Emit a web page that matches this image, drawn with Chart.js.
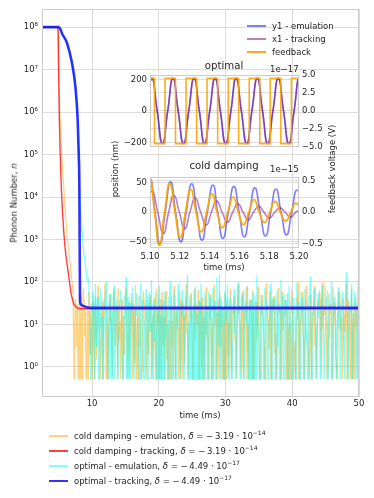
<!DOCTYPE html>
<html><head><meta charset="utf-8">
<script src="https://cdn.jsdelivr.net/npm/chart.js@4.4.1/dist/chart.umd.min.js"></script>
<style>
body{margin:0;background:#fff;}
#wrap{position:relative;width:374px;height:498px;overflow:hidden;font-family:"DejaVu Sans",sans-serif;color:#262626;font-size:8.5px;background:#fff;}
canvas{position:absolute;}
.t{position:absolute;white-space:nowrap;line-height:1;}
.c{transform:translate(-50%,-50%);}
.r{transform:translate(-50%,-50%) rotate(-90deg);}
.m{transform:translateY(-50%);}
.ttl{font-size:10.2px;}
.sw{position:absolute;height:2px;width:19px;}
sup{font-size:6px;vertical-align:4px;line-height:0;}
</style></head><body>
<div id="wrap">
<canvas id="main" width="374" height="498" style="left:0;top:0"></canvas>
<canvas id="opt" width="240" height="95" style="left:100px;top:60px"></canvas>
<canvas id="cold" width="240" height="115" style="left:100px;top:160px"></canvas>

<div class="t r" style="left:14px;top:203px">Phonon Number, <i>n</i></div>
<div class="t c" style="left:200px;top:415px">time (ms)</div>

<div class="sw" style="left:247px;top:25px;background:rgba(0,0,255,0.5)"></div>
<div class="t m" style="left:272px;top:26px">y1 - emulation</div>
<div class="sw" style="left:247px;top:38px;background:rgba(128,0,128,0.5)"></div>
<div class="t m" style="left:272px;top:39px">x1 - tracking</div>
<div class="sw" style="left:247px;top:51px;background:rgb(255,170,20)"></div>
<div class="t m" style="left:272px;top:52px">feedback</div>

<div class="t c ttl" style="left:224px;top:66px">optimal</div>
<div class="t m" style="left:270px;top:69px">1e−17</div>
<div class="t c ttl" style="left:224px;top:166px">cold damping</div>
<div class="t m" style="left:270px;top:169px">1e−15</div>
<div class="t r" style="left:115px;top:169px">position (nm)</div>
<div class="t r" style="left:332px;top:169px">feedback voltage (V)</div>
<div class="t c" style="left:224px;top:267px">time (ms)</div>

<div class="sw" style="left:49px;top:435px;background:rgba(255,165,0,0.5)"></div>
<div class="t m" style="left:74px;top:436px">cold damping - emulation, <i>δ</i> = −&thinsp;3.19 · 10<sup>−14</sup></div>
<div class="sw" style="left:49px;top:450px;background:rgba(255,0,0,0.75)"></div>
<div class="t m" style="left:74px;top:451px">cold damping - tracking, <i>δ</i> = −&thinsp;3.19 · 10<sup>−14</sup></div>
<div class="sw" style="left:49px;top:465px;background:rgba(0,255,255,0.5)"></div>
<div class="t m" style="left:74px;top:466px">optimal - emulation, <i>δ</i> = −&thinsp;4.49 · 10<sup>−17</sup></div>
<div class="sw" style="left:49px;top:480px;background:rgba(0,0,255,0.8)"></div>
<div class="t m" style="left:74px;top:481px">optimal - tracking, <i>δ</i> = −&thinsp;4.49 · 10<sup>−17</sup></div>
</div>
<script>
// ---------------- main chart data ----------------
const xTicks = [10, 20, 30, 40, 50];
const yTickExps = [0, 1, 2, 3, 4, 5, 6, 7, 8];

const coldTrackT = [2.5, 4.9, 4.95, 5.1, 5.4, 5.8, 6.1, 6.45, 6.9, 7.3, 7.8, 8.5, 50];
const coldTrackN = [1e8, 1e8, 2.5e7, 6.3e5, 1.6e4, 1260, 400, 160, 50, 30, 24.5, 23.4, 23.4];

const optTrackT = [2.5, 5.0, 5.25, 5.5, 6.25, 7.0, 7.5, 7.85, 8.0, 8.1, 8.15, 8.2, 8.3, 8.5, 8.8, 9.2, 10, 50];
const optTrackN = [1e8, 1e8, 9.0e7, 7.1e7, 4.2e7, 1.4e7, 4.0e6, 6.5e5, 1.07e5, 1.7e4, 480, 35, 30, 28, 27, 25.5, 24.5, 24.5];

const coldEmuT = [2.5, 4.9, 5.0, 5.15, 5.45, 5.85, 6.25, 6.7, 7.0, 7.15];
const coldEmuN = [1e8, 1e8, 1.6e7, 1.26e6, 1e5, 1e4, 1260, 300, 100, 70];

const optEmuT = [2.5, 5.0, 5.25, 5.5, 6.25, 7.0, 7.5, 7.85, 8.0, 8.1, 8.3, 8.5, 8.75, 9.0, 9.3];
const optEmuN = [1e8, 1e8, 9.0e7, 7.1e7, 4.2e7, 1.4e7, 4.0e6, 6.5e5, 1.07e5, 1.7e4, 4000, 1600, 500, 250, 110];

// noise samples: series A at start + 0.2*i, series B at start + 0.1 + 0.2*i
const noiseStep = 0.2;
const coldNoiseStart = 7.3;
const coldEmuNoiseA = [
0.52,40,3,0.52,55,12,0.52,70,5,0.52,
25,60,2,30,0.52,18,45,1.5,80,9,
0.52,35,6,90,0.52,22,4,50,14,0.52,
65,3,28,70,7,0.52,40,16,2.5,75,
0.52,33,11,55,0.52,20,85,4,0.52,48,
13,0.8,60,25,0.52,38,6,50,0.52,17,
42,2,70,10,0.52,30,58,3,0.52,60,
21,5,0.52,45,12,80,0.52,26,7,62,
0.52,35,15,1.2,90,8,0.52,50,23,0.52,
68,4,30,65,0.52,19,44,6,0.52,75,
27,2,52,0.52,14,85,9,0.52,36,60,
3,0.52,24,55,0.52,40,11,70,0.52,18,
46,5,0.52,88,29,1,57,0.52,21,75,
7,0.52,39,15,65,0.52,32,4,78,0.52,
25,50,10,0.52,93,17,2.5,61,0.52,28,
47,6,0.52,72,20,0.52,60,13,38,0.52,
55,8,0.52,66,24,3,0.52,43,98,0.52,
16,59,5,0.52,81,31,0.7,49,0.52,22,
80,9,0.52,37,64,4,100,27,86,12,
0.52,53,19,0.52,76,34,2,0.52,58,60,
7,0.52,41,15,92,0.52,30,0.52,67,11,
0.52,44,26,3];
const coldEmuNoiseB = [
8,22,30,2,0.52,45,16,28,20,1.5,
0.52,12,18,25,35,0.52,9,14,28,3,
15,0.52,40,20,7,0.52,25,11,0.52,33,
19,10,0.52,4,12,22,0.52,2,38,26,
6,0.52,18,24,30,1.2,0.52,14,20,3,
0.52,26,31,8,0.52,2,32,17,11,0.52,
5,0.52,19,27,40,0.52,7,15,24,1.5,
0.52,13,21,3,0.52,29,18,9,0.52,36,
2,0.52,16,25,6,0.52,27,12,4,0.52,
21,30,10,0.52,34,1,0.52,15,22,5,
0.52,25,14,8,0.52,42,19,3,0.52,18,
26,7,0.52,30,16,2,0.52,12,24,23,
4,0.52,37,18,9,0.52,1.5,20,20,0.52,
11,24,28,0.52,5,0.52,33,14,6,0.52,
17,22,3,0.52,26,13,10,0.52,39,21,
2,0.52,14,27,22,0.52,7,18,31,1,
0.52,9,23,19,0.52,4,16,35,0.52,12,
20,6,0.52,24,29,2.5,0.52,16,11,28,
3,0.52,13,25,41,0.52,8,17,21,0.52,
5,19,30,0.52,11,24,1.2,0.52,26,15,
15,0.52,7,20,0.52,34,22,4,0.52,18,
27,9,0.52];

const optNoiseStart = 9.5;
const optEmuNoiseA = [
120,8,0.52,60,25,90,3,45,0.52,70,
15,0.52,38,100,6,0.52,52,20,0.52,85,
11,40,0.52,28,65,2,0.52,48,130,9,
0.52,33,18,75,0.52,22,55,4,0.52,95,
30,0.52,12,68,0.52,42,7,110,0.52,26,
58,3,0.52,80,17,0.52,36,62,5,0.52,
45,105,0.52,14,50,0.52,24,88,8,0.52,
66,29,0.52,40,150,10,0.52,56,19,0.52,
78,4,0.52,35,92,0.52,21,47,6,0.52,
60,13,0.52,72,31,0.52,125,16,150,43,
9,0.52,54,23,86,0.52,37,2,0.52,69,
27,0.52,98,12,0.52,46,64,0.52,18,82,
5,0.52,39,57,0.52,25,140,7,0.52,50,
20,0.52,74,33,0.52,11,90,0.52,44,28,
0.52,61,3,0.52,112,15,0.52,52,35,0.52,
79,8,0.52,41,24,0.52,96,13,0.52,58,
30,0.52,67,4,0.52,48,135,0.52,19,71,
10,0.52,55,26,0.52,84,6,0.52,38,63,
0.52,22,102,0.52,45,14,0.52,76,32,0.52,
57,9,0.52,170,40,0.52,21,88,0.52,60,
34,0.52,118];
const optEmuNoiseB = [
30,0.52,15,42,0.52,22,35,0.52,18,8,
0.52,26,40,11,0.52,33,0.52,19,48,0.52,
24,6,0.52,37,20,0.52,14,29,0.52,45,
9,0.52,31,23,0.52,16,44,2,0.52,27,
38,0.52,12,25,0.52,50,17,0.52,34,4,
0.52,21,39,0.52,13,28,0.52,46,10,0.52,
32,18,0.52,24,41,0.52,7,36,0.52,20,
15,0.52,43,27,0.52,11,30,0.52,22,52,
0.52,17,33,0.52,25,8,0.52,40,19,0.52,
29,45,0.52,14,36,0.52,21,3,0.52,34,
23,0.52,47,12,0.52,30,18,0.52,39,6,
0.52,26,15,0.52,42,20,0.52,33,10,0.52,
37,24,0.52,16,49,0.52,28,5,0.52,31,
19,0.52,44,22,0.52,13,35,0.52,26,41,
0.52,9,32,0.52,21,46,0.52,17,38,0.52,
25,12,0.52,40,28,0.52,15,34,0.52,20,
43,0.52,23,7,0.52,36,27,0.52,18,48,
0.52,30,14,0.52,39,22,0.52,11,33,0.52,
26,45,0.52,19,31,0.52,24,8,0.52,37,
16,0.52,29,42,0.52,21,35,0.52,13,27,
0.52,40];

// ---------------- inset data ----------------
const insetXTicks = [5.10, 5.12, 5.14, 5.16, 5.18, 5.20];
const optLeftTicks = [-200, 0, 200];
const optRightTicks = [-5, -2.5, 0, 2.5, 5];
const coldLeftTicks = [-50, 0, 50];
const coldRightTicks = [-0.5, 0, 0.5];

const optPosT = [5.0978,5.1013,5.1048,5.1084,5.1119,5.1154,5.1189,5.1225,5.1260,5.1296,5.1331,5.1366,5.1401,5.1437,5.1472,5.1508,5.1543,5.1578,5.1613,5.1649,5.1684,5.1720,5.1755,5.1790,5.1825,5.1861,5.1896,5.1932,5.1967,5.2002,5.2037];
const optY1 = [0,208,0,-208,0,208,0,-208,0,208,0,-208,0,208,0,-208,0,208,0,-208,0,208,0,-208,0,208,0,-208,0,208,0];
const optX1 = [0,205,0,-205,0,205,0,-205,0,205,0,-205,0,205,0,-205,0,205,0,-205,0,205,0,-205,0,205,0,-205,0,205,0];
const optFbT = [5.0960,5.1030,5.1101,5.1171,5.1242,5.1313,5.1383,5.1454,5.1525,5.1595,5.1666,5.1737,5.1807,5.1878,5.1949,5.2019];
const optFb = [4.55,-4.55,4.55,-4.55,4.55,-4.55,4.55,-4.55,4.55,-4.55,4.55,-4.55,4.55,-4.55,4.55,-4.55];

const coldY1T = [5.0965,5.1000,5.1034,5.1067,5.1102,5.1138,5.1172,5.1207,5.1243,5.1280,5.1314,5.1349,5.1385,5.1422,5.1455,5.1489,5.1526,5.1563,5.1598,5.1633,5.1668,5.1703,5.1739,5.1775,5.1810,5.1845,5.1880,5.1916,5.1951,5.1986,5.2021];
const coldY1 = [0,57,0,-54,0,52,0,-50.5,0,48.5,0,-47.5,0,46.5,0,-44.5,0,44,0,-42,0,41.5,0,-40.5,0,39.5,0,-39,0,38,0];
const coldX1T = [5.0978,5.1013,5.1052,5.1090,5.1125,5.1160,5.1197,5.1233,5.1268,5.1303,5.1340,5.1377,5.1412,5.1447,5.1484,5.1520,5.1555,5.1590,5.1625,5.1660,5.1695,5.1730,5.1765,5.1800,5.1837,5.1873,5.1908,5.1943,5.1978,5.2013];
const coldX1 = [0,36,0,-36,0,29,0,-28,0,24,0,-22,0,19,0,-17,0,14,0,-13,0,10,0,-10,0,7,0,-8.5,0,5];
const coldFbT = [5.0965,5.0999,5.1031,5.1063,5.1098,5.1133,5.1168,5.1203,5.1238,5.1273,5.1309,5.1344,5.1380,5.1415,5.1450,5.1485,5.1522,5.1558,5.1593,5.1627,5.1663,5.1698,5.1733,5.1768,5.1804,5.1840,5.1875,5.1910,5.1945,5.1980,5.2015];
const coldFb = [0,0.53,0,-0.52,0,0.45,0,-0.40,0,0.36,0,-0.31,0,0.29,0,-0.245,0,0.24,0,-0.195,0,0.20,0,-0.16,0,0.17,0,-0.14,0,0.145,0];

// ---------------- helpers ----------------
const FONT = {family: '"DejaVu Sans", sans-serif', size: 8.5};
const TXT = '#262626';
const GRID = '#dcdcdc';
const SUP = {'0':'⁰','1':'¹','2':'²','3':'³','4':'⁴','5':'⁵','6':'⁶','7':'⁷','8':'⁸','9':'⁹','-':'⁻'};
const supStr = n => String(n).split('').map(c => SUP[c]).join('');
const minus = s => String(s).replace('-', '−');
const toPts = (ts, vs) => ts.map((t, i) => ({x: t, y: vs[i]}));
const noisePts = (t0, vs) => vs.map((v, i) => ({x: +(t0 + i * noiseStep).toFixed(2), y: v}));
const mergeNoise = (t0, a, b) => noisePts(t0, a).concat(noisePts(t0 + noiseStep / 2, b)).sort((p, q) => p.x - q.x);
const fixTicks = arr => s => { s.ticks = arr.map(v => ({value: v})); };

const framePlugin = {
  id: 'frame',
  afterDraw(chart) {
    const {ctx, chartArea: a} = chart;
    ctx.save();
    ctx.strokeStyle = '#cccccc';
    ctx.lineWidth = 1;
    ctx.strokeRect(Math.round(a.left) + 0.5, Math.round(a.top) + 0.5,
                   Math.round(a.right - a.left) - 1, Math.round(a.bottom - a.top) - 1);
    ctx.restore();
  }
};

const common = {
  responsive: false, animation: false, devicePixelRatio: 1, events: [],
  plugins: {legend: {display: false}, tooltip: {enabled: false}},
  elements: {point: {radius: 0}}
};

// ---------------- main chart ----------------
new Chart(document.getElementById('main'), {
  type: 'line',
  data: {datasets: [
    {data: toPts(coldEmuT, coldEmuN).concat(mergeNoise(coldNoiseStart, coldEmuNoiseA, coldEmuNoiseB)),
     borderColor: 'rgba(255,165,0,0.5)', borderWidth: 1.2, order: 4},
    {data: toPts(coldTrackT, coldTrackN), borderColor: 'rgba(255,0,0,0.75)', borderWidth: 1.4,
     cubicInterpolationMode: 'monotone', order: 3},
    {data: toPts(optEmuT, optEmuN).concat(mergeNoise(optNoiseStart, optEmuNoiseA, optEmuNoiseB)),
     borderColor: 'rgba(0,255,255,0.5)', borderWidth: 1.3, order: 2},
    {data: toPts(optTrackT, optTrackN), borderColor: 'rgba(0,0,255,0.8)', borderWidth: 2.6,
     cubicInterpolationMode: 'monotone', order: 1}
  ]},
  options: Object.assign({}, common, {
    layout: {padding: {left: 0, top: 9, right: 15, bottom: 81}},
    scales: {
      x: {type: 'linear', min: 2.5, max: 50, afterBuildTicks: fixTicks(xTicks),
          ticks: {font: FONT, color: TXT, padding: 2, maxRotation: 0, autoSkip: false},
          grid: {color: GRID, drawTicks: false}, border: {display: false},
          afterFit: s => { s.height = 20; }},
      y: {type: 'logarithmic', min: 0.196, max: 2.65e8,
          afterBuildTicks: s => { s.ticks = yTickExps.map(e => ({value: Math.pow(10, e)})); },
          ticks: {font: FONT, color: TXT, padding: 4, autoSkip: false,
                  callback: v => '10' + supStr(Math.round(Math.log10(v)))},
          grid: {color: GRID, drawTicks: false}, border: {display: false},
          afterFit: s => { s.width = 42; }}
    }
  }),
  plugins: [framePlugin]
});

// ---------------- optimal inset ----------------
new Chart(document.getElementById('opt'), {
  type: 'line',
  data: {datasets: [
    {data: toPts(optPosT, optY1), yAxisID: 'y', borderColor: 'rgba(0,0,255,0.5)', borderWidth: 1.6, tension: 0.55, order: 3},
    {data: toPts(optPosT, optX1), yAxisID: 'y', borderColor: 'rgba(128,0,128,0.5)', borderWidth: 1.6, tension: 0.55, order: 2},
    {data: toPts(optFbT, optFb), yAxisID: 'y2', borderColor: 'rgba(255,165,0,0.9)', borderWidth: 1.6, stepped: 'before', order: 1}
  ]},
  options: Object.assign({}, common, {
    layout: {padding: {left: 0, top: 15, right: 0, bottom: 6}},
    scales: {
      x: {type: 'linear', min: 5.10, max: 5.20, display: false},
      y: {position: 'left', min: -228, max: 228, afterBuildTicks: fixTicks(optLeftTicks),
          ticks: {font: FONT, color: TXT, padding: 3, callback: v => minus(v)},
          grid: {color: GRID, drawTicks: false}, border: {display: false},
          afterFit: s => { s.width = 50; }},
      y2: {position: 'right', min: -5, max: 5, afterBuildTicks: fixTicks(optRightTicks),
          ticks: {font: FONT, color: TXT, padding: 3, callback: v => minus(v.toFixed(1))},
          grid: {color: GRID, drawTicks: false}, border: {display: false},
          afterFit: s => { s.width = 41; }}
    }
  }),
  plugins: [framePlugin]
});

// ---------------- cold damping inset ----------------
new Chart(document.getElementById('cold'), {
  type: 'line',
  data: {datasets: [
    {data: toPts(coldY1T, coldY1), yAxisID: 'y', borderColor: 'rgba(0,0,255,0.5)', borderWidth: 1.6, tension: 0.55, order: 3},
    {data: toPts(coldX1T, coldX1), yAxisID: 'y', borderColor: 'rgba(128,0,128,0.5)', borderWidth: 1.6, tension: 0.55, order: 2},
    {data: toPts(coldFbT, coldFb), yAxisID: 'y2', borderColor: 'rgba(255,165,0,0.95)', borderWidth: 1.8, tension: 0.55, order: 1}
  ]},
  options: Object.assign({}, common, {
    layout: {padding: {left: 0, top: 17, right: 0, bottom: 13.5}},
    scales: {
      x: {type: 'linear', min: 5.10, max: 5.20, afterBuildTicks: fixTicks(insetXTicks),
          ticks: {font: FONT, color: TXT, padding: 4, maxRotation: 0, autoSkip: false, callback: v => v.toFixed(2)},
          grid: {display: false, drawTicks: false}, border: {display: false},
          afterFit: s => { s.height = 14; }},
      y: {position: 'left', min: -60, max: 60, afterBuildTicks: fixTicks(coldLeftTicks),
          ticks: {font: FONT, color: TXT, padding: 3, callback: v => minus(v)},
          grid: {color: GRID, drawTicks: false}, border: {display: false},
          afterFit: s => { s.width = 50; }},
      y2: {position: 'right', min: -0.556, max: 0.556, afterBuildTicks: fixTicks(coldRightTicks),
          ticks: {font: FONT, color: TXT, padding: 3, callback: v => minus(v.toFixed(1))},
          grid: {color: GRID, drawTicks: false}, border: {display: false},
          afterFit: s => { s.width = 41; }}
    }
  }),
  plugins: [framePlugin]
});
</script>
</body></html>
